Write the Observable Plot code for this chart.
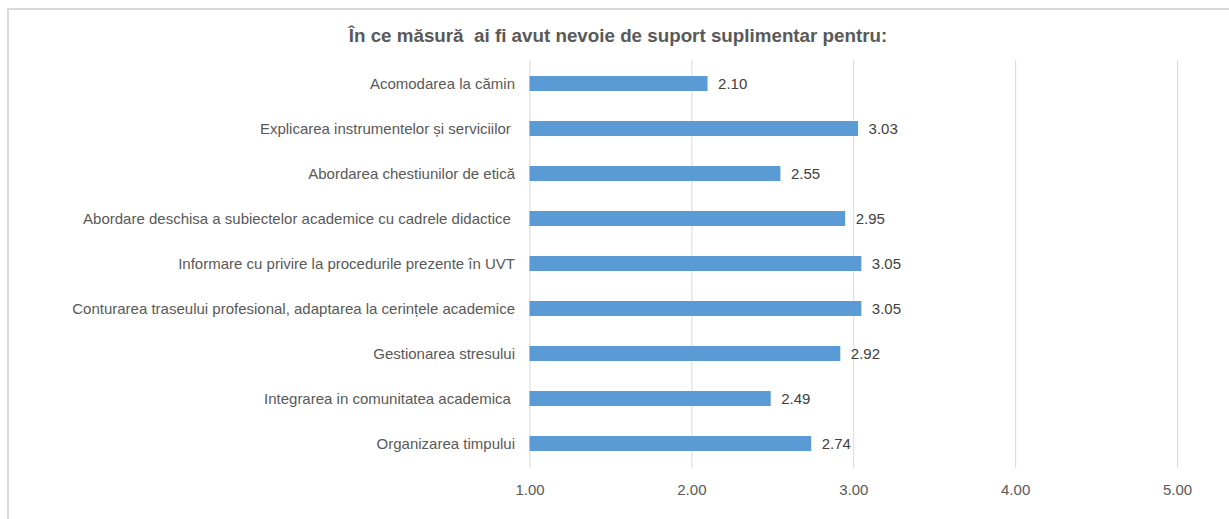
<!DOCTYPE html>
<html>
<head>
<meta charset="utf-8">
<script src="https://cdn.jsdelivr.net/npm/d3@7"></script>
<script src="https://cdn.jsdelivr.net/npm/@observablehq/plot@0.6"></script>
<style>
  html, body { margin: 0; padding: 0; background: #fff; overflow: hidden; }
  body { position: relative; width: 1229px; height: 519px; font-family: "Liberation Sans", Arial, sans-serif; }
  #frame { position: absolute; left: 7px; top: 8px; width: 1240px; height: 530px; border: 2px solid #d9d9d9; box-sizing: border-box; }
  #title { position: absolute; left: 7px; width: 1222px; top: 25px; text-align: center; font-weight: bold; font-size: 18.8px; line-height: 22px; color: #595959; white-space: pre; }
  #chart { position: absolute; left: 0; top: 50px; }
</style>
</head>
<body>
<div id="frame"></div>
<div id="title">În ce măsură  ai fi avut nevoie de suport suplimentar pentru:</div>
<div id="chart"></div>
<script>
const categories = [
  "Acomodarea la cămin",
  "Explicarea instrumentelor și serviciilor ",
  "Abordarea chestiunilor de etică",
  "Abordare deschisa a subiectelor academice cu cadrele didactice ",
  "Informare cu privire la procedurile prezente în UVT",
  "Conturarea traseului profesional, adaptarea la cerințele academice",
  "Gestionarea stresului",
  "Integrarea in comunitatea academica ",
  "Organizarea timpului"
];
const values = [2.10, 3.03, 2.55, 2.95, 3.05, 3.05, 2.92, 2.49, 2.74];
const xTicks = [1, 2, 3, 4, 5];
const baseline = 1;

const data = categories.map((c, i) => ({category: c, value: values[i]}));

const chart = Plot.plot({
  width: 1229,
  height: 469,
  marginTop: 10,
  marginBottom: 51,
  marginLeft: 529.5,
  marginRight: 52,
  style: { fontFamily: "'Liberation Sans', Arial, sans-serif", fontSize: "15px", color: "#595959", background: "transparent" },
  x: { domain: [1, 5], ticks: xTicks, tickFormat: d3.format(".2f"), tickSize: 0, tickPadding: 16, label: null },
  y: { domain: categories, paddingInner: 0.66, paddingOuter: 0.33, tickSize: 0, tickPadding: 15, label: null },
  marks: [
    Plot.gridX(xTicks, { stroke: "#d9d9d9", strokeOpacity: 1 }),
    Plot.barX(data, { y: "category", x1: () => baseline, x2: "value", fill: "#5b9bd5" }),
    Plot.text(data, { y: "category", x: "value", text: d => d3.format(".2f")(d.value), dx: 10, textAnchor: "start", fill: "#404040", fontSize: 15 })
  ]
});
document.getElementById("chart").appendChild(chart);
</script>
</body>
</html>
